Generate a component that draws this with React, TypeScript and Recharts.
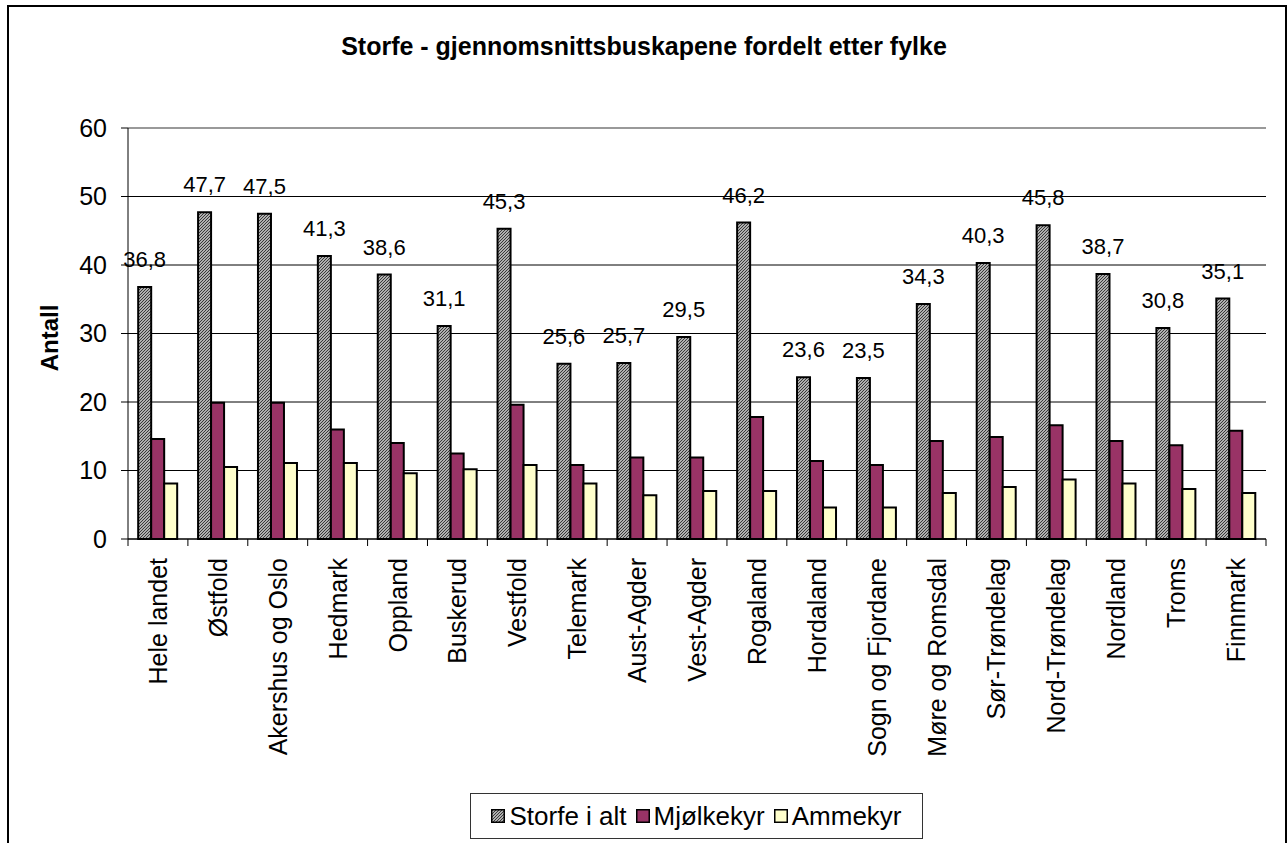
import React from 'react';
import { BarChart, Bar, XAxis, YAxis, CartesianGrid, LabelList, ReferenceLine } from 'recharts';

const categories = ['Hele landet', 'Østfold', 'Akershus og Oslo', 'Hedmark', 'Oppland', 'Buskerud', 'Vestfold', 'Telemark', 'Aust-Agder', 'Vest-Agder', 'Rogaland', 'Hordaland', 'Sogn og Fjordane', 'Møre og Romsdal', 'Sør-Trøndelag', 'Nord-Trøndelag', 'Nordland', 'Troms', 'Finnmark'];
const storfe = [36.8, 47.7, 47.5, 41.3, 38.6, 31.1, 45.3, 25.6, 25.7, 29.5, 46.2, 23.6, 23.5, 34.3, 40.3, 45.8, 38.7, 30.8, 35.1];
const mjolkekyr = [14.6, 19.9, 19.9, 16.0, 14.0, 12.5, 19.6, 10.8, 11.9, 11.9, 17.8, 11.4, 10.8, 14.3, 14.9, 16.6, 14.3, 13.7, 15.8];
const ammekyr = [8.1, 10.5, 11.1, 11.1, 9.6, 10.2, 10.8, 8.1, 6.4, 7.0, 7.0, 4.6, 4.6, 6.7, 7.6, 8.7, 8.1, 7.3, 6.7];
const yTicks = [0, 10, 20, 30, 40, 50, 60];
const seriesNames = ['Storfe i alt', 'Mjølkekyr', 'Ammekyr'];
const title = 'Storfe - gjennomsnittsbuskapene fordelt etter fylke';
const yLabel = 'Antall';

const data = categories.map((c, i) => ({ name: c, storfe: storfe[i], mjolk: mjolkekyr[i], amme: ammekyr[i] }));

const W = 1288;
const H = 843;
const M = { top: 128, right: 22, left: 0, bottom: 54 };
const YW = 128;
const XH = 250;
const FONT = '"Liberation Sans", Arial, sans-serif';
const band = (W - M.left - M.right - YW) / categories.length;

const XTick = (props: any) => {
  const { x, y, payload, index } = props;
  const axisY = y - 19;
  const half = band / 2;
  return (
    <g>
      <line x1={x - half} x2={x - half} y1={axisY} y2={axisY + 7} stroke="#000" strokeWidth={1} />
      {index === categories.length - 1 && (
        <line x1={x + half} x2={x + half} y1={axisY} y2={axisY + 7} stroke="#000" strokeWidth={1} />
      )}
      <text
        transform={`translate(${x},${y}) rotate(-90)`}
        textAnchor="end"
        dy="0.36em"
        fontSize={25}
        fontFamily={FONT}
        fill="#000"
      >
        {payload.value}
      </text>
    </g>
  );
};

const YLabel = () => (
  <text
    transform="translate(49,338) rotate(-90)"
    textAnchor="middle"
    dy="0.36em"
    fontSize={24}
    fontWeight="bold"
    fontFamily={FONT}
    fill="#000"
  >
    {yLabel}
  </text>
);

const fmt = (v: any) => Number(v).toFixed(1).replace('.', ',');

const HatchDef = ({ id }: { id: string }) => (
  <pattern id={id} width={3} height={3} patternUnits="userSpaceOnUse">
    <rect width={3} height={3} fill="#e8e8e8" />
    <path d="M-1,1 l2,-2 M0,3 l3,-3 M2,4 l2,-2" stroke="#333" strokeWidth={1.2} />
  </pattern>
);

const Swatch = ({ kind }: { kind: number }) => {
  if (kind === 0) {
    return (
      <svg width={14} height={14} style={{ display: 'block' }}>
        <defs>
          <HatchDef id="hatchLeg" />
        </defs>
        <rect x={0.75} y={0.75} width={12.5} height={12.5} fill="url(#hatchLeg)" stroke="#000" strokeWidth={1.5} />
      </svg>
    );
  }
  const fill = kind === 1 ? '#993366' : '#FFFFCC';
  return (
    <svg width={14} height={14} style={{ display: 'block' }}>
      <rect x={0.75} y={0.75} width={12.5} height={12.5} fill={fill} stroke="#000" strokeWidth={1.5} />
    </svg>
  );
};

export default function App() {
  return (
    <div style={{ position: 'absolute', left: 0, top: 0, width: W, height: H, overflow: 'hidden', background: '#fff', fontFamily: FONT }}>
      <div style={{ position: 'absolute', left: 7, top: 5, width: 1276, height: 900, border: '2px solid #000' }} />
      <div style={{ position: 'absolute', left: 0, top: 31, width: W, textAlign: 'center', fontSize: 25, fontWeight: 'bold', lineHeight: '30px', color: '#000' }}>
        {title}
      </div>
      <div style={{ position: 'absolute', left: 0, top: 0 }}>
        <BarChart width={W} height={H} data={data} margin={M} barCategoryGap="17%" barGap={0}>
          <defs>
            <HatchDef id="hatch" />
          </defs>
          <CartesianGrid vertical={false} stroke="#000" strokeWidth={1} />
          <XAxis
            dataKey="name"
            interval={0}
            height={XH}
            tickLine={false}
            tickSize={7}
            tickMargin={12}
            axisLine={{ stroke: '#000', strokeWidth: 1 }}
            tick={<XTick />}
          />
          <YAxis
            width={YW}
            domain={[0, 60]}
            ticks={yTicks}
            tickSize={7}
            tickMargin={14}
            axisLine={{ stroke: '#000', strokeWidth: 1 }}
            tickLine={{ stroke: '#000', strokeWidth: 1 }}
            tick={{ fontSize: 25, fontFamily: FONT, fill: '#000' }}
            label={<YLabel />}
          />
          <YAxis
            yAxisId="r"
            orientation="right"
            width={0}
            tick={false}
            tickLine={false}
            axisLine={{ stroke: '#999', strokeWidth: 2 }}
          />
          <ReferenceLine y={60} stroke="#999" strokeWidth={2} />
          <Bar dataKey="storfe" name={seriesNames[0]} fill="url(#hatch)" stroke="#000" strokeWidth={2} isAnimationActive={false}>
            <LabelList dataKey="storfe" position="top" offset={20} formatter={fmt} style={{ fontSize: 22, fontFamily: FONT, fill: '#000' }} />
          </Bar>
          <Bar dataKey="mjolk" name={seriesNames[1]} fill="#993366" stroke="#000" strokeWidth={2} isAnimationActive={false} />
          <Bar dataKey="amme" name={seriesNames[2]} fill="#FFFFCC" stroke="#000" strokeWidth={2} isAnimationActive={false} />
        </BarChart>
      </div>
      <div style={{ position: 'absolute', left: 470, top: 793, width: 453, height: 46, border: '1px solid #333', boxSizing: 'border-box', display: 'flex', alignItems: 'center', justifyContent: 'center', fontSize: 26, color: '#000' }}>
        {seriesNames.map((n, i) => (
          <div key={n} style={{ display: 'flex', alignItems: 'center', marginLeft: i === 0 ? 0 : 9 }}>
            <Swatch kind={i} />
            <span style={{ marginLeft: 4 }}>{n}</span>
          </div>
        ))}
      </div>
    </div>
  );
}
